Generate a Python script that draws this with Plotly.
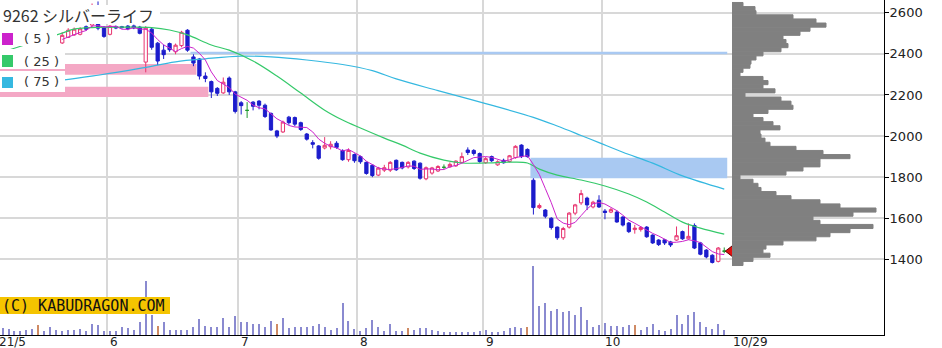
import plotly.graph_objects as go
import pandas as pd

# ---------------- data ----------------
title_text = "9262 シルバーライフ"
# trading-day index 0 = 2021-05-06
month_labels = ["21/5", "6", "7", "8", "9", "10"]
month_first_idx = [0, 18, 40, 60, 81, 101]
last_label = "10/29"

first_idx = 10
opens = [2453, 2480, 2492, 2495, 2532, 2540, 2600, 2530, 2495, 2532,
         2532, 2535, 2536, 2530, 2360, 2520, 2452, 2418, 2450, 2410,
         2440, 2515, 2385, 2375, 2292, 2265, 2232, 2210, 2282, 2215,
         2162, 2125, 2165, 2170, 2150, 2110, 2025, 2020, 2092, 2090,
         2065, 2010, 1968, 1952, 1942, 1948, 1965, 1930, 1885, 1910,
         1900, 1872, 1858, 1810, 1834, 1834, 1882, 1872, 1850, 1878,
         1868, 1792, 1820, 1830, 1848, 1850, 1855, 1872, 1932, 1930,
         1915, 1870, 1900, 1860, 1882, 1876, 1895, 1956, 1935, 1785,
         1652, 1640, 1600, 1557, 1505, 1557, 1625, 1675, 1698, 1655,
         1688, 1635, 1630, 1630, 1606, 1577, 1545, 1545, 1557, 1518,
         1494, 1495, 1485, 1494, 1535, 1500, 1565, 1480, 1445, 1420,
         1390, 1440]
highs = [2505, 2525, 2528, 2530, 2538, 2645, 2655, 2535, 2540, 2538,
         2536, 2540, 2542, 2536, 2535, 2528, 2458, 2445, 2455, 2450,
         2512, 2520, 2398, 2380, 2310, 2270, 2238, 2285, 2290, 2220,
         2170, 2165, 2170, 2175, 2158, 2115, 2030, 2075, 2098, 2095,
         2070, 2015, 1980, 1956, 1995, 1975, 1975, 1935, 1940, 1915,
         1905, 1876, 1862, 1850, 1860, 1878, 1886, 1876, 1878, 1882,
         1872, 1852, 1850, 1858, 1862, 1872, 1882, 1920, 1945, 1936,
         1920, 1898, 1905, 1882, 1890, 1908, 1955, 1960, 1940, 1795,
         1672, 1645, 1605, 1560, 1558, 1630, 1670, 1738, 1705, 1685,
         1712, 1645, 1650, 1638, 1610, 1582, 1568, 1562, 1562, 1522,
         1498, 1500, 1490, 1560, 1540, 1575, 1575, 1485, 1450, 1425,
         1460, 1458]
lows = [2448, 2477, 2488, 2490, 2512, 2530, 2515, 2478, 2490, 2520,
        2522, 2515, 2520, 2495, 2310, 2420, 2345, 2375, 2410, 2398,
        2432, 2410, 2340, 2275, 2262, 2185, 2195, 2205, 2200, 2110,
        2105, 2088, 2125, 2130, 2088, 2025, 1990, 2015, 2055, 2048,
        2025, 1978, 1940, 1885, 1935, 1935, 1938, 1880, 1875, 1870,
        1865, 1812, 1800, 1805, 1825, 1825, 1830, 1838, 1842, 1835,
        1788, 1785, 1812, 1825, 1840, 1845, 1850, 1868, 1908, 1905,
        1870, 1865, 1874, 1855, 1866, 1872, 1890, 1893, 1895, 1618,
        1645, 1600, 1545, 1495, 1495, 1550, 1615, 1665, 1640, 1648,
        1650, 1595, 1625, 1578, 1560, 1528, 1525, 1535, 1505, 1475,
        1465, 1470, 1460, 1490, 1495, 1495, 1450, 1420, 1405, 1380,
        1385, 1430]
closes = [2490, 2515, 2520, 2522, 2520, 2600, 2525, 2485, 2535, 2526,
          2528, 2522, 2526, 2500, 2525, 2432, 2365, 2396, 2420, 2442,
          2505, 2418, 2355, 2292, 2280, 2215, 2208, 2262, 2215, 2120,
          2148, 2125, 2145, 2150, 2095, 2030, 2000, 2068, 2065, 2058,
          2032, 1985, 1960, 1892, 1955, 1960, 1945, 1885, 1930, 1880,
          1875, 1818, 1808, 1844, 1846, 1872, 1836, 1845, 1872, 1842,
          1795, 1846, 1845, 1852, 1848, 1862, 1878, 1900, 1920, 1915,
          1876, 1890, 1880, 1875, 1870, 1904, 1950, 1900, 1900, 1652,
          1662, 1610, 1555, 1505, 1550, 1625, 1665, 1720, 1665, 1678,
          1655, 1628, 1642, 1582, 1567, 1535, 1552, 1555, 1510, 1480,
          1472, 1480, 1470, 1515, 1500, 1512, 1455, 1425, 1412, 1385,
          1455, 1440]
prior_closes = [2455, 2470, 2462, 2475]   # closes before first drawn candle (5MA warm-up)

vol_first_idx = 0
volumes = [7, 6, 4, 4, 5, 6, 10, 4, 8, 5, 4, 5, 5, 6, 4, 11, 10, 4, 4, 4,
           8, 7, 5, 13, 54, 20, 9, 13, 5, 5, 5, 5, 8, 16, 9, 8, 8, 17, 8, 19,
           13, 13, 11, 11, 8, 14, 11, 17, 7, 8, 8, 8, 9, 11, 8, 5, 7, 32, 14, 6,
           4, 7, 15, 8, 4, 11, 4, 4, 7, 5, 7, 7, 5, 4, 3, 3, 3, 3, 3, 3,
           4, 5, 3, 3, 4, 7, 8, 7, 8, 69, 29, 32, 24, 26, 23, 24, 20, 28, 15, 8,
           10, 12, 9, 9, 8, 10, 10, 5, 8, 11, 5, 4, 6, 20, 11, 20, 23, 13, 8, 6,
           11, 5]
volumes = [v * 1000 for v in volumes]
sq_idx = [6, 26, 46, 68, 88, 106]      # 2nd-Friday (SQ) sessions

ma25_idx = [0, 5, 10, 12, 15, 20, 25, 28, 31, 35, 38, 42, 46, 50, 54, 57, 60, 64, 67,
            70, 74, 77, 81, 85, 88, 90, 93, 97, 101, 105, 108, 111, 114, 117, 121]
ma25_val = [2409, 2455, 2501, 2520, 2528, 2530, 2528, 2516, 2492, 2443, 2418, 2365, 2292,
            2209, 2126, 2078, 2039, 1990, 1956, 1917, 1883, 1869, 1869, 1873, 1869, 1839,
            1810, 1786, 1757, 1718, 1679, 1630, 1581, 1552, 1523]
ma75_idx = [0, 10, 16, 23, 29, 34, 40, 45, 51, 57, 62, 66, 73, 81, 89, 93, 97, 100,
            104, 109, 114, 121]
ma75_val = [2248, 2272, 2296, 2329, 2361, 2376, 2389, 2385, 2370, 2348, 2318, 2278, 2221,
            2158, 2091, 2049, 2003, 1968, 1921, 1868, 1806, 1742]

# price gaps (窓): first session after the gap, session that filled it (None = open)
gap_from_idx = [0, 0, 32, 89]
gap_fill_idx = [33, 35, None, None]
gap_low = [2298, 2190, 2398, 1795]
gap_high = [2350, 2240, 2410, 1895]
gap_up = [True, True, False, False]

# volume-by-price profile
prof_price = list(range(1380, 2660, 20))
prof_vol = [11, 21, 38, 31, 34, 51, 84, 98, 118, 141, 88, 81, 121, 144, 108, 88, 59, 44,
            29, 26, 21, 8, 54, 71, 88, 88, 118, 91, 64, 38, 33, 29, 28, 48, 41, 31, 21,
            36, 61, 59, 49, 13, 43, 31, 36, 31, 8, 11, 18, 19, 24, 31, 49, 56, 54, 51,
            68, 78, 94, 84, 61, 24, 23, 11]
prof_vol = [v * 1000 for v in prof_vol]

price_ticks = [1400, 1600, 1800, 2000, 2200, 2400, 2600]
ma_labels = ["( 5 )", "( 25 )", "( 75 )"]

# ---------------- styling / geometry ----------------
PW, PH = 884, 335                       # plot area in px
def px(x): return x / PW
def py(y): return 1 - y / PH

UP = "#e8336f"
DOWN = "#1c1ccc"
EVEN = "#1f9a2f"
C5, C25, C75 = "#cc22cc", "#35c96a", "#35b8e0"

n = len(closes)
xs = list(range(first_idx, first_idx + n))
last_idx = xs[-1]

all_close = pd.Series(prior_closes + closes)
ma5 = all_close.rolling(5).mean().tolist()[len(prior_closes):]

fig = go.Figure()

# gap bands
shapes = []
for a, f, lo, hi, up in zip(gap_from_idx, gap_fill_idx, gap_low, gap_high, gap_up):
    x0 = a - 0.5
    x1 = (f - 0.5) if f is not None else last_idx + 0.5
    shapes.append(dict(type="rect", xref="x", yref="y", x0=x0, x1=x1, y0=lo, y1=hi,
                       fillcolor="#f4a8c5" if up else "#a9c9f2", line=dict(width=0),
                       layer="between"))

# volume bars
vx = list(range(vol_first_idx, vol_first_idx + len(volumes)))
vcol = ["#cf8a64" if i in sq_idx else "#8a8ad0" for i in vx]
fig.add_trace(go.Bar(x=vx, y=volumes, width=0.18, marker=dict(color=vcol, line=dict(width=0)),
                     xaxis="x", yaxis="y2", hoverinfo="skip"))

# volume profile
fig.add_trace(go.Bar(x=prof_vol, y=prof_price, orientation="h", width=20,
                     marker=dict(color="#808080", line=dict(color="#808080", width=1)),
                     xaxis="x2", yaxis="y", hoverinfo="skip"))

# moving averages
fig.add_trace(go.Scatter(x=ma75_idx, y=ma75_val, mode="lines", line=dict(color=C75, width=1.2, shape="spline")))
fig.add_trace(go.Scatter(x=ma25_idx, y=ma25_val, mode="lines", line=dict(color=C25, width=1.2, shape="spline")))
fig.add_trace(go.Scatter(x=xs, y=ma5, mode="lines", line=dict(color=C5, width=1)))

# candles
mv = [i for i in range(n) if opens[i] != closes[i]]
ev = [i for i in range(n) if opens[i] == closes[i]]
fig.add_trace(go.Candlestick(
    x=[xs[i] for i in mv], open=[opens[i] for i in mv], high=[highs[i] for i in mv],
    low=[lows[i] for i in mv], close=[closes[i] for i in mv],
    increasing=dict(line=dict(color=UP, width=1), fillcolor="white"),
    decreasing=dict(line=dict(color=DOWN, width=1), fillcolor=DOWN),
    whiskerwidth=0))
fig.add_trace(go.Candlestick(
    x=[xs[i] for i in ev], open=[opens[i] for i in ev], high=[highs[i] for i in ev],
    low=[lows[i] for i in ev], close=[closes[i] for i in ev],
    increasing=dict(line=dict(color=EVEN, width=1), fillcolor=EVEN),
    decreasing=dict(line=dict(color=EVEN, width=1), fillcolor=EVEN),
    whiskerwidth=0))

# last price marker
fig.add_trace(go.Scatter(x=[last_idx + 1.1], y=[closes[-1]], mode="markers",
                         marker=dict(symbol="triangle-left", size=11, color="#e01010",
                                     line=dict(color="#600000", width=1))))

# white boxes for title / legend
for (x0, y0, x1, y1) in [(0, 5, 160, 24), (0, 25, 57, 46), (0, 49, 65, 69), (0, 71, 65, 92)]:
    shapes.append(dict(type="rect", xref="paper", yref="paper", x0=px(x0), x1=px(x1),
                       y0=py(y1), y1=py(y0), fillcolor="white", line=dict(width=0), layer="above"))
for col, (y0, y1) in zip([C5, C25, C75], [(33, 45), (55, 67), (77, 88)]):
    shapes.append(dict(type="rect", xref="paper", yref="paper", x0=px(2), x1=px(13),
                       y0=py(y1), y1=py(y0), fillcolor=col, line=dict(width=0), layer="above"))
# logo background
shapes.append(dict(type="rect", xref="paper", yref="paper", x0=px(0), x1=px(170),
                   y0=py(314), y1=py(297), fillcolor="#f5c400", line=dict(width=0), layer="above"))

ann = []
ann.append(dict(text=title_text, xref="paper", yref="paper", x=px(1), y=py(15), xanchor="left",
                yanchor="middle", showarrow=False,
                font=dict(family="Noto Sans CJK JP", size=16, color="#333")))
for lab, yc in zip(ma_labels, [39, 61, 82]):
    ann.append(dict(text=lab, xref="paper", yref="paper", x=px(22), y=py(yc), xanchor="left",
                    yanchor="middle", showarrow=False,
                    font=dict(family="DejaVu Sans", size=13, color="#333")))
ann.append(dict(text="(C) KABUDRAGON.COM", xref="paper", yref="paper", x=px(0), y=py(305.5),
                xanchor="left", yanchor="middle", showarrow=False,
                font=dict(family="DejaVu Sans Mono", size=15, color="#111")))
for lab, fi in zip(month_labels, month_first_idx):
    bx = 2.6 + 5.964 * (fi - 0.5)
    ann.append(dict(text=lab, xref="paper", yref="paper", x=px(max(bx, 0)), y=py(333),
                    xanchor="left", yanchor="top", xshift=1 if fi else -3, showarrow=False,
                    font=dict(family="DejaVu Sans", size=12, color="#222")))
ann.append(dict(text=last_label, xref="paper", yref="paper", x=px(731), y=py(333), xanchor="left",
                yanchor="top", showarrow=False, font=dict(family="DejaVu Sans", size=12, color="#222")))

x_lo = -2.6 / 5.964
x_hi = x_lo + PW / 5.964

fig.update_layout(
    width=942, height=348, margin=dict(l=0, r=58, t=0, b=13),
    paper_bgcolor="white", plot_bgcolor="white", showlegend=False, barmode="overlay",
    boxgap=0.22,
    shapes=shapes, annotations=ann,
    xaxis=dict(domain=[0, 1], range=[x_lo, x_hi], tickvals=[f - 0.5 for f in month_first_idx[1:]],
               showticklabels=False, ticks="", showgrid=True, gridcolor="#d8d8d8", gridwidth=1.5,
               showline=True, linecolor="black", linewidth=1, zeroline=False,
               rangeslider=dict(visible=False), fixedrange=True),
    xaxis2=dict(domain=[732 / PW, 1], range=[0, 152000], anchor="y", visible=False),
    yaxis=dict(side="right", range=[1032, 2662], tickvals=price_ticks,
               ticktext=[str(v) for v in price_ticks], showgrid=True, gridcolor="#d8d8d8",
               gridwidth=1.5, ticks="outside", ticklen=4, tickcolor="black", showline=True,
               linecolor="black", linewidth=1, zeroline=False, ticklabelstandoff=-2,
               tickfont=dict(family="DejaVu Sans", size=13, color="#222")),
    yaxis2=dict(overlaying="y", range=[0, PH * 1000], visible=False),
)

fig.write_html("out.html")
